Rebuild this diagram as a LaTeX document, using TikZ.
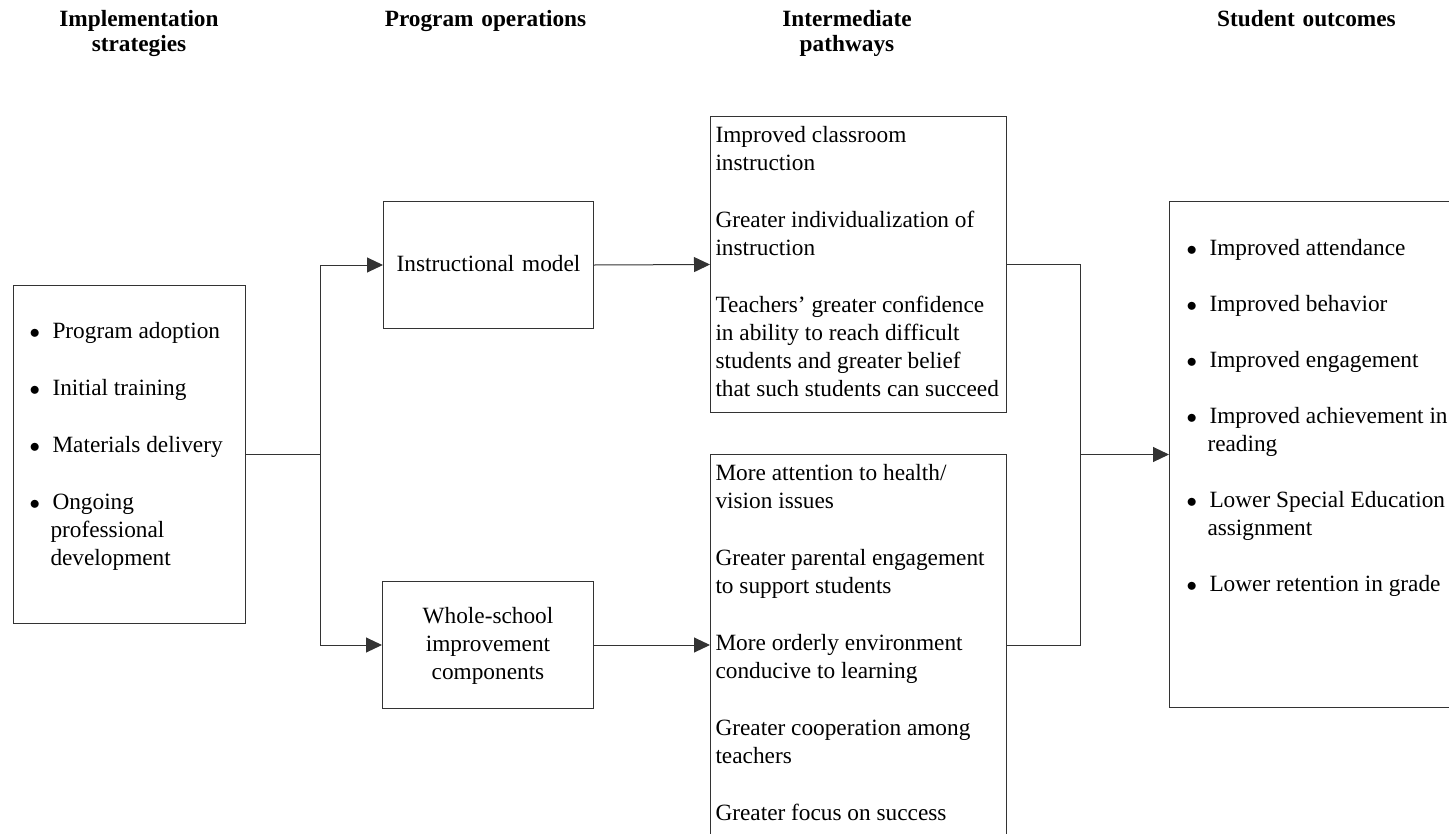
\documentclass[tikz,border=0pt]{standalone}
\usepackage{fontspec}
\setmainfont{Liberation Serif}
\usetikzlibrary{arrows.meta}

\newcommand{\blt}{\makebox[23pt][l]{\fontsize{20}{20}\selectfont$\bullet$}}
\newcommand{\ind}{\hspace*{21pt}}

\begin{document}
\begin{tikzpicture}[x=1pt,y=-1pt,
    every node/.style={font=\fontsize{23.3}{28}\selectfont},
    box/.style={draw=black!80, line width=1pt, anchor=north west, inner ysep=0pt, align=flush left},
    head/.style={font=\fontsize{23.3}{25}\selectfont\bfseries, text width=260pt, align=center, anchor=base, inner sep=0pt},
    line/.style={draw=black!80, line width=1pt},
    arr/.style={-{Triangle[length=16pt,width=15pt]}}]
  \useasboundingbox (0,0) rectangle (1449,833);

  % column headings
  \foreach \name/\x/\txt in {hstrat/139/{Implementation\\strategies},
                             hops/485.5/{Program operations},
                             hpath/847/{Intermediate\\pathways},
                             hout/1306.5/{Student outcomes}}
    \node[head] (\name) at (\x,26.7) {\txt};

  % boxes
  \node[box, inner xsep=16pt, text width=200pt, text height=53pt, text depth=285pt] (strat) at (13,285)
    {\blt Program adoption\\[29pt]
     \blt Initial training\\[29pt]
     \blt Materials delivery\\[29pt]
     \blt Ongoing\\
     \ind professional\\
     \ind development};
  \node[box, align=center, inner xsep=5pt, text width=200pt, text height=70pt, text depth=57pt] (im) at (383,201)
    {Instructional model};
  \node[box, align=center, inner xsep=5pt, text width=201pt, text height=42pt, text depth=85pt] (ws) at (382,581)
    {Whole-school\\improvement\\components};
  \node[box, inner xsep=5pt, text width=286pt, text height=26pt, text depth=270pt] (ipA) at (710,116)
    {Improved classroom\\
     instruction\\[29pt]
     \mbox{Greater individualization of}\\
     instruction\\[29pt]
     \mbox{Teachers’ greater confidence}\\
     \mbox{in ability to reach difficult}\\
     \mbox{students and greater belief}\\
     \mbox{that such students can succeed}};
  \node[box, inner xsep=5pt, text width=286pt, text height=26pt, text depth=420pt] (ipB) at (710,454)
    {More attention to health/\\
     vision issues\\[29pt]
     \mbox{Greater parental engagement}\\
     to support students\\[29pt]
     \mbox{More orderly environment}\\
     conducive to learning\\[29pt]
     \mbox{Greater cooperation among}\\
     teachers\\[29pt]
     Greater focus on success};
  \node[box, inner xsep=17pt, text width=297pt, text height=54pt, text depth=452pt] (out) at (1169,201)
    {\blt Improved attendance\\[28pt]
     \blt Improved behavior\\[28pt]
     \blt Improved engagement\\[28pt]
     \blt \mbox{Improved achievement in}\\
     \ind reading\\[28pt]
     \blt \mbox{Lower Special Education}\\
     \ind assignment\\[28pt]
     \blt Lower retention in grade};

  % connectors
  \coordinate (j1) at ([xshift=74pt]strat.east);
  \coordinate (j2) at ([xshift=73pt]ipA.east |- out.west);
  \draw[line] (strat.east) -- (j1);
  \draw[line,arr] (j1) |- (im.west);
  \draw[line,arr] (j1) |- (ws.west);
  \draw[line,arr] (im.east) -- (ipA.west);
  \draw[line,arr] (ws.east) -- (ws.east -| ipB.west);
  \draw[line] (ipA.east) -| (j2) |- (ws.east -| ipB.east);
  \draw[line,arr] (j2) -- (out.west);
\end{tikzpicture}
\end{document}
